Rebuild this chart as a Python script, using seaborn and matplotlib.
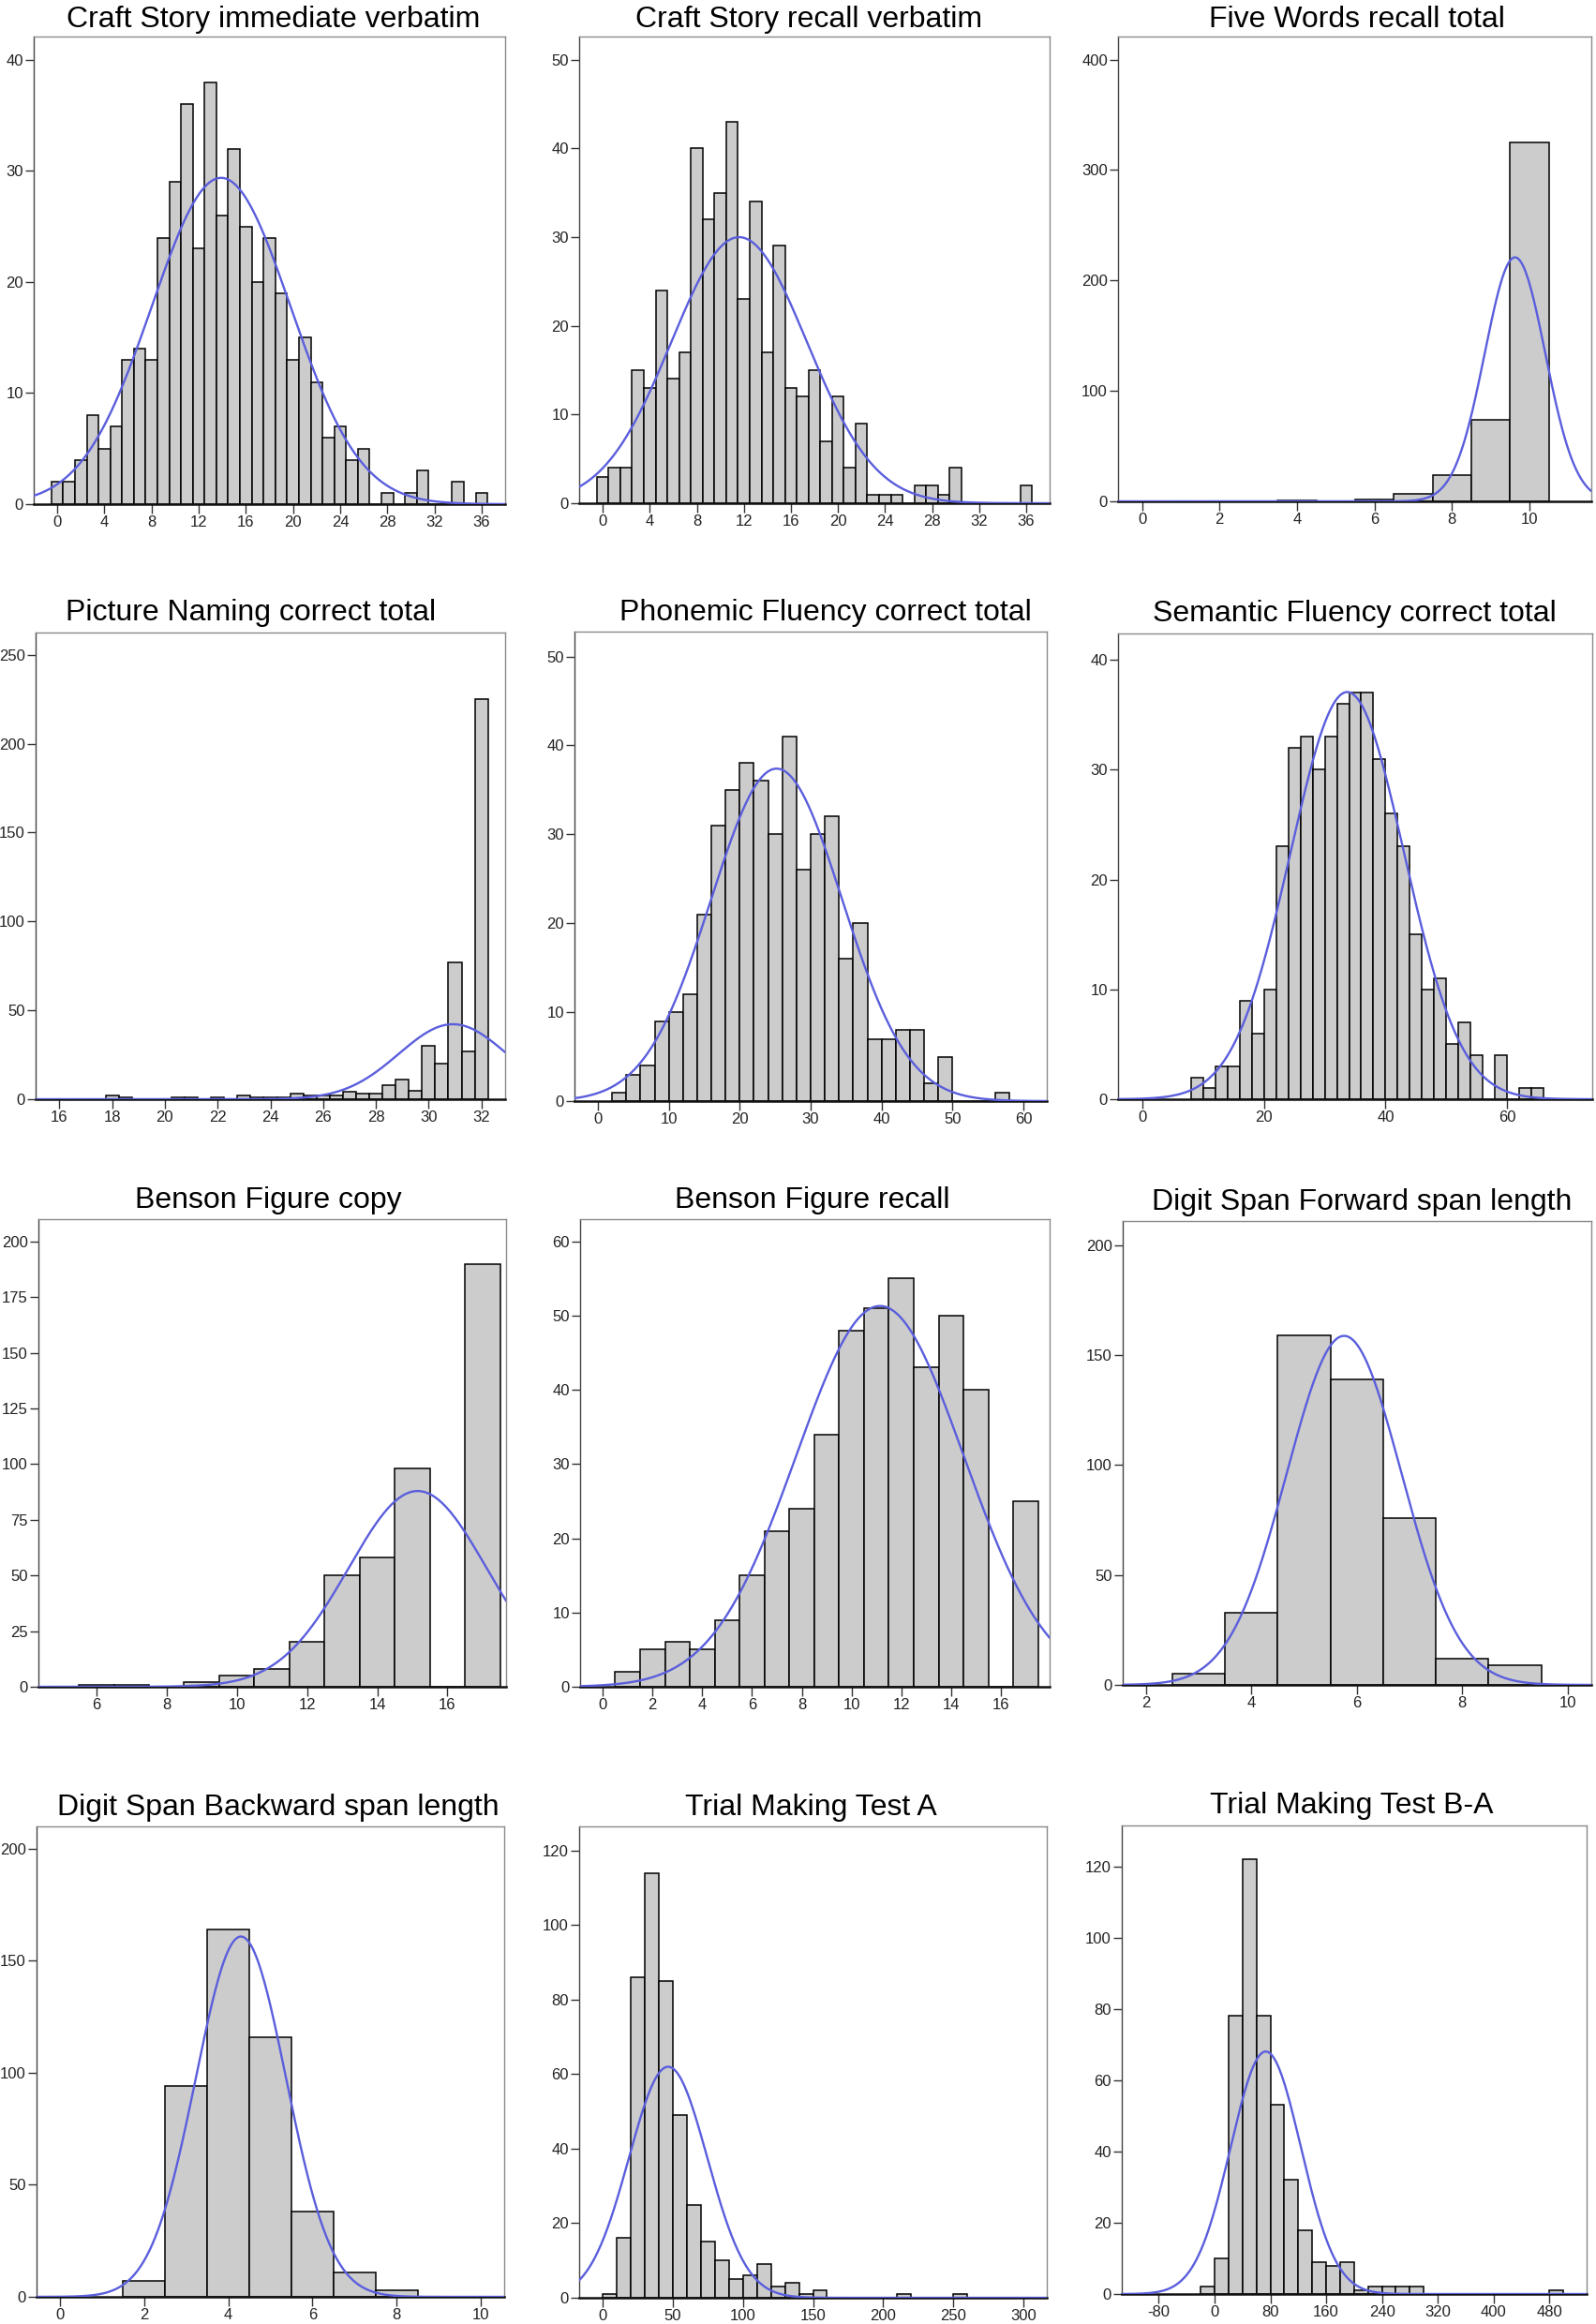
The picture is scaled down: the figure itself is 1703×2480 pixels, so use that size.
import numpy as np
import pandas as pd
import matplotlib
matplotlib.use("Agg")
import matplotlib.pyplot as plt
import seaborn as sns

# ---------------- data ----------------
titles = [
    "Craft Story immediate verbatim", "Craft Story recall verbatim", "Five Words recall total",
    "Picture Naming correct total", "Phonemic Fluency correct total", "Semantic Fluency correct total",
    "Benson Figure copy", "Benson Figure recall", "Digit Span Forward span length",
    "Digit Span Backward span length", "Trial Making Test A", "Trial Making Test B-A",
]

# bin width, first bin centre, counts
bin_width = [1, 1, 1, 0.5, 2, 2, 1, 1, 1, 1, 10, 20]
first_center = [0, 0, 4, 18.0, 3, 9, 6, 1, 3, 2, 5, -10]

cs_immediate = [2, 2, 4, 8, 5, 7, 13, 14, 13, 24, 29, 36, 23, 38, 26, 32, 25, 20, 24, 19,
                13, 15, 11, 6, 7, 4, 5, 0, 1, 0, 1, 3, 0, 0, 2, 0, 1]
cs_recall = [3, 4, 4, 15, 13, 24, 14, 17, 40, 32, 35, 43, 23, 34, 17, 29, 13, 12, 15, 7,
             12, 4, 9, 1, 1, 1, 0, 2, 2, 1, 4, 0, 0, 0, 0, 0, 2]
five_words = [1, 0, 2, 7, 24, 74, 325]
picture_naming = [2, 1, 0, 0, 0, 1, 1, 0, 1, 0, 2, 1, 1, 1, 3, 2, 2, 2, 4, 3, 3, 8, 11, 5,
                  30, 20, 77, 27, 225]
phonemic = [1, 3, 4, 9, 10, 12, 21, 31, 35, 38, 36, 30, 41, 26, 30, 32, 16, 20, 7, 7, 8, 8,
            2, 5, 0, 0, 0, 1]
semantic = [2, 1, 3, 3, 9, 6, 10, 23, 32, 33, 30, 33, 36, 37, 37, 31, 26, 23, 15, 10, 11, 5,
            7, 4, 0, 4, 0, 1, 1]
benson_copy = [1, 1, 0, 2, 5, 8, 20, 50, 58, 98, 0, 190]
benson_recall = [2, 5, 6, 5, 9, 15, 21, 24, 34, 48, 51, 55, 43, 50, 40, 0, 25]
ds_forward = [5, 33, 159, 139, 76, 12, 9]
ds_backward = [7, 94, 164, 116, 38, 11, 3]
tmt_a = [1, 16, 86, 114, 85, 49, 25, 15, 10, 5, 6, 9, 3, 4, 1, 2, 0, 0, 0, 0, 0, 1, 0, 0, 0, 1]
tmt_ba = [2, 10, 78, 122, 78, 53, 32, 18, 9, 8, 9, 1, 2, 2, 2, 2, 0, 0, 0, 0, 0, 0, 0, 0, 0, 1]

counts_all = [cs_immediate, cs_recall, five_words, picture_naming, phonemic, semantic,
              benson_copy, benson_recall, ds_forward, ds_backward, tmt_a, tmt_ba]

# normal curve parameters (mean, sd)
curve_mean = [13.9, 11.6, 9.63, 30.92, 25.2, 33.7, 15.15, 11.14, 5.76, 4.30, 46.9, 73.4]
curve_sd = [5.88, 5.76, 0.782, 2.047, 9.24, 9.32, 1.965, 3.367, 1.088, 1.074, 27.86, 50.3]

# axis ranges and ticks
x_limits = [(-2, 38), (-2, 38), (-0.62, 11.6), (15.1, 32.9), (-3.3, 63.3), (-4, 74),
            (4.35, 17.67), (-0.91, 17.96), (1.56, 10.45), (-0.56, 10.56), (-16.4, 316.4),
            (-133, 533.5)]
y_top = [42.1, 52.6, 420.8, 262.5, 52.8, 42.4, 210, 63, 211, 210, 126.5, 131.5]
x_ticks = [list(range(0, 37, 4)), list(range(0, 37, 4)), list(range(0, 11, 2)),
           list(range(16, 33, 2)), list(range(0, 61, 10)), list(range(0, 61, 20)),
           list(range(6, 17, 2)), list(range(0, 17, 2)), list(range(2, 11, 2)),
           list(range(0, 11, 2)), list(range(0, 301, 50)), list(range(-80, 481, 80))]
y_ticks = [list(range(0, 41, 10)), list(range(0, 51, 10)), list(range(0, 401, 100)),
           list(range(0, 251, 50)), list(range(0, 51, 10)), list(range(0, 41, 10)),
           list(range(0, 201, 25)), list(range(0, 61, 10)), list(range(0, 201, 50)),
           list(range(0, 201, 50)), list(range(0, 121, 20)), list(range(0, 121, 20))]

# panel frames in pixels: left, right, top, bottom
frames = [(36, 539, 39, 538), (618, 1120, 39, 537), (1193, 1698, 39, 535),
          (38, 539, 675, 1173), (613, 1117, 674, 1175), (1193, 1699, 676, 1173),
          (41, 540, 1301, 1800), (619, 1120, 1301, 1800), (1198, 1698, 1303, 1798),
          (39, 538, 1949, 2451), (618, 1117, 1949, 2452), (1197, 1693, 1948, 2448)]
# horizontal title offsets (axes fraction)
title_dx = [0.008, -0.011, 0.005, -0.041, 0.031, -0.002, -0.009, -0.005, 0.011, 0.017,
            -0.005, -0.005]
title_pad = [7, 7, 7, 9, 9, 9, 9, 9, 9, 9, 9, 9]

# ---------------- drawing ----------------
sns.set_style("white")
plt.rcParams["font.family"] = ["Liberation Sans", "DejaVu Sans"]
plt.rcParams["axes.unicode_minus"] = False

W, H = 1703, 2480
fig = plt.figure(figsize=(W / 100, H / 100), dpi=100)

bar_face = "#cccccc"
curve_color = "#5a5edc"

for i in range(12):
    l, r, t, b = frames[i]
    ax = fig.add_axes([l / W, 1 - b / H, (r - l) / W, (b - t) / H])
    bw = bin_width[i]
    counts = np.array(counts_all[i], dtype=float)
    centers = first_center[i] + bw * np.arange(len(counts))
    edges = [float(e) for e in np.append(centers - bw / 2, centers[-1] + bw / 2)]
    df = pd.DataFrame({"value": centers, "count": counts})
    sns.histplot(data=df, x="value", weights="count", bins=edges, ax=ax, stat="count",
                 color=bar_face, edgecolor="black", linewidth=1.1, alpha=1.0, zorder=2)
    n = counts.sum()
    xs = np.linspace(x_limits[i][0], x_limits[i][1], 600)
    mu, sd = curve_mean[i], curve_sd[i]
    ys = n * bw * np.exp(-0.5 * ((xs - mu) / sd) ** 2) / (sd * np.sqrt(2 * np.pi))
    sns.lineplot(x=xs, y=ys, ax=ax, color=curve_color, linewidth=1.7, zorder=3)

    ax.set_xlim(*x_limits[i])
    ax.set_ylim(0, y_top[i])
    ax.set_xticks(x_ticks[i])
    ax.set_yticks(y_ticks[i])
    ax.set_xlabel("")
    ax.set_ylabel("")
    ax.tick_params(axis="both", direction="out", length=6.5, width=1.0, color="#333333",
                   labelsize=12, labelcolor="#222222", pad=1.5, bottom=True, left=True)
    ax.tick_params(axis="x", length=7)
    for side in ("top", "right"):
        ax.spines[side].set_color("#8a8a8a")
        ax.spines[side].set_linewidth(1.0)
    ax.spines["left"].set_color("#444444")
    ax.spines["left"].set_linewidth(1.0)
    ax.spines["bottom"].set_color("#111111")
    ax.spines["bottom"].set_linewidth(1.8)
    ax.set_title(titles[i], fontsize=23, color="black", pad=title_pad[i],
                 x=0.5 + title_dx[i])
    ax.grid(False)

fig.savefig("out.png", dpi=100)
